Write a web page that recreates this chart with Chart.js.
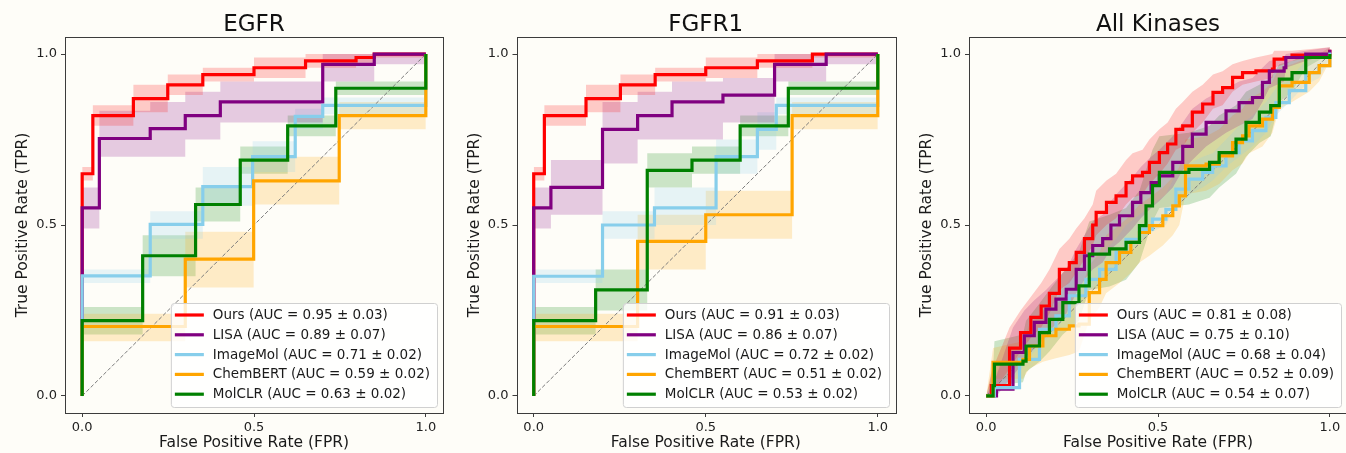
<!DOCTYPE html>
<html>
<head>
<meta charset="utf-8">
<script src="https://cdn.jsdelivr.net/npm/chart.js@4.4.0/dist/chart.umd.min.js"></script>
<style>
  html, body { margin: 0; padding: 0; background: #fefdf8; overflow: hidden; }
  #wrap { position: relative; width: 1346px; height: 453px; }
  canvas { position: absolute; top: 0; }
</style>
</head>
<body>
<div id="wrap">
  <canvas id="c1" width="455" height="453" style="left:0px"></canvas>
  <canvas id="c2" width="450" height="453" style="left:455px"></canvas>
  <canvas id="c3" width="442" height="453" style="left:905px"></canvas>
</div>
<script>
// ---- data ----
const MODELS = ['Ours', 'LISA', 'ImageMol', 'ChemBERT', 'MolCLR'];
const TICKS = [0, 0.5, 1.0];
const DIAG_X = [0, 1];
const DIAG_Y = [0, 1];

// EGFR
const egfrAuc = [0.95, 0.89, 0.71, 0.59, 0.63];
const egfrStd = [0.03, 0.07, 0.02, 0.02, 0.02];
const egfrOursX = [0, 0, 0.031, 0.149, 0.249, 0.351, 0.50, 0.65, 0.797, 0.85, 1.0];
const egfrOursY = [0, 0.65, 0.82, 0.87, 0.91, 0.94, 0.96, 0.98, 0.99, 1.0, 1.0];
const egfrOursLo = [0, 0.63, 0.79, 0.83, 0.88, 0.92, 0.93, 0.96, 0.975, 0.99, 0.99];
const egfrOursHi = [0, 0.67, 0.85, 0.91, 0.94, 0.96, 0.99, 1.0, 1.0, 1.0, 1.0];
const egfrLisaX = [0, 0, 0.05, 0.198, 0.30, 0.402, 0.70, 0.85, 1.0];
const egfrLisaY = [0, 0.55, 0.753, 0.782, 0.82, 0.86, 0.97, 1.0, 1.0];
const egfrLisaLo = [0, 0.49, 0.70, 0.70, 0.75, 0.80, 0.92, 0.97, 0.97];
const egfrLisaHi = [0, 0.61, 0.834, 0.86, 0.89, 0.92, 1.0, 1.0, 1.0];
const egfrImgX = [0, 0, 0.198, 0.351, 0.496, 0.62, 0.70, 1.0];
const egfrImgY = [0, 0.351, 0.502, 0.612, 0.70, 0.818, 0.85, 1.0];
const egfrImgLo = [0, 0.33, 0.46, 0.556, 0.655, 0.78, 0.824, 1.0];
const egfrImgHi = [0, 0.37, 0.54, 0.67, 0.745, 0.84, 0.873, 1.0];
const egfrChemX = [0, 0, 0.30, 0.499, 0.748, 1.0];
const egfrChemY = [0, 0.203, 0.40, 0.629, 0.82, 1.0];
const egfrChemLo = [0, 0.16, 0.317, 0.56, 0.78, 1.0];
const egfrChemHi = [0, 0.24, 0.48, 0.70, 0.86, 1.0];
const egfrMolX = [0, 0, 0.176, 0.33, 0.46, 0.598, 0.738, 1.0];
const egfrMolY = [0, 0.22, 0.41, 0.56, 0.69, 0.79, 0.90, 1.0];
const egfrMolLo = [0, 0.18, 0.35, 0.51, 0.65, 0.76, 0.88, 1.0];
const egfrMolHi = [0, 0.26, 0.47, 0.61, 0.73, 0.82, 0.92, 1.0];

// FGFR1
const fgfrAuc = [0.91, 0.86, 0.72, 0.51, 0.53];
const fgfrStd = [0.03, 0.07, 0.02, 0.02, 0.02];
const fgfrOursX = [0, 0, 0.031, 0.152, 0.252, 0.353, 0.50, 0.65, 0.81, 1.0];
const fgfrOursY = [0, 0.65, 0.82, 0.87, 0.91, 0.94, 0.96, 0.98, 1.0, 1.0];
const fgfrOursLo = [0, 0.63, 0.79, 0.83, 0.88, 0.92, 0.93, 0.96, 0.99, 0.99];
const fgfrOursHi = [0, 0.67, 0.85, 0.91, 0.94, 0.96, 0.99, 1.0, 1.0, 1.0];
const fgfrLisaX = [0, 0, 0.05, 0.20, 0.302, 0.402, 0.55, 0.70, 0.85, 1.0];
const fgfrLisaY = [0, 0.55, 0.61, 0.78, 0.82, 0.86, 0.88, 0.97, 1.0, 1.0];
const fgfrLisaLo = [0, 0.49, 0.53, 0.68, 0.75, 0.75, 0.80, 0.92, 0.97, 0.97];
const fgfrLisaHi = [0, 0.61, 0.69, 0.86, 0.89, 0.92, 0.93, 1.0, 1.0, 1.0];
const fgfrImgX = [0, 0, 0.20, 0.351, 0.53, 0.65, 0.705, 1.0];
const fgfrImgY = [0, 0.35, 0.50, 0.55, 0.70, 0.78, 0.85, 1.0];
const fgfrImgLo = [0, 0.33, 0.46, 0.50, 0.65, 0.72, 0.824, 1.0];
const fgfrImgHi = [0, 0.37, 0.54, 0.61, 0.75, 0.83, 0.873, 1.0];
const fgfrChemX = [0, 0, 0.302, 0.50, 0.751, 1.0];
const fgfrChemY = [0, 0.203, 0.452, 0.53, 0.82, 1.0];
const fgfrChemLo = [0, 0.16, 0.37, 0.46, 0.78, 1.0];
const fgfrChemHi = [0, 0.24, 0.53, 0.60, 0.86, 1.0];
const fgfrMolX = [0, 0, 0.18, 0.33, 0.46, 0.60, 0.74, 1.0];
const fgfrMolY = [0, 0.22, 0.31, 0.66, 0.69, 0.79, 0.90, 1.0];
const fgfrMolLo = [0, 0.18, 0.25, 0.61, 0.65, 0.76, 0.88, 1.0];
const fgfrMolHi = [0, 0.26, 0.37, 0.71, 0.73, 0.82, 0.92, 1.0];

// All Kinases
const allAuc = [0.81, 0.75, 0.68, 0.52, 0.54];
const allStd = [0.08, 0.10, 0.04, 0.09, 0.07];
const allOursX = [0, 0.015, 0.068, 0.10, 0.13, 0.16, 0.184, 0.213, 0.242, 0.262, 0.286, 0.31, 0.32, 0.35, 0.378, 0.407, 0.426, 0.455, 0.475, 0.504, 0.528, 0.552, 0.572, 0.60, 0.63, 0.66, 0.688, 0.717, 0.746, 0.785, 0.833, 0.838, 0.867, 0.89, 1.0];
const allOursY = [0, 0.03, 0.14, 0.185, 0.23, 0.263, 0.30, 0.37, 0.39, 0.42, 0.46, 0.50, 0.537, 0.566, 0.585, 0.624, 0.644, 0.654, 0.683, 0.712, 0.737, 0.78, 0.79, 0.83, 0.854, 0.888, 0.902, 0.932, 0.946, 0.951, 0.956, 0.985, 0.99, 0.997, 1.013];
const allOursHi = [0, 0.07, 0.2, 0.25, 0.29, 0.33, 0.37, 0.43, 0.46, 0.49, 0.52, 0.56, 0.60, 0.63, 0.65, 0.69, 0.71, 0.72, 0.75, 0.78, 0.80, 0.84, 0.86, 0.89, 0.91, 0.94, 0.95, 0.97, 0.98, 0.99, 1.0, 1.01, 1.01, 1.01, 1.02];
const allOursLo = [0, 0, 0.08, 0.13, 0.17, 0.2, 0.24, 0.31, 0.33, 0.36, 0.40, 0.44, 0.47, 0.50, 0.52, 0.56, 0.58, 0.59, 0.62, 0.65, 0.68, 0.72, 0.73, 0.77, 0.80, 0.84, 0.85, 0.89, 0.91, 0.92, 0.93, 0.96, 0.97, 0.98, 1.0];
const allLisaX = [0, 0.03, 0.078, 0.111, 0.14, 0.174, 0.203, 0.233, 0.262, 0.286, 0.31, 0.339, 0.363, 0.388, 0.426, 0.45, 0.48, 0.504, 0.543, 0.572, 0.60, 0.64, 0.698, 0.736, 0.775, 0.804, 0.824, 0.867, 0.872, 0.93, 1.0];
const allLisaY = [0, 0.02, 0.127, 0.176, 0.215, 0.254, 0.283, 0.312, 0.37, 0.41, 0.44, 0.46, 0.50, 0.527, 0.566, 0.595, 0.624, 0.644, 0.683, 0.73, 0.766, 0.80, 0.834, 0.858, 0.873, 0.917, 0.95, 0.96, 0.99, 1.0, 1.013];
const allLisaHi = [0, 0.06, 0.2, 0.25, 0.28, 0.31, 0.34, 0.37, 0.43, 0.47, 0.51, 0.53, 0.57, 0.60, 0.64, 0.67, 0.70, 0.72, 0.76, 0.80, 0.84, 0.87, 0.90, 0.92, 0.93, 0.96, 0.98, 0.99, 1.0, 1.01, 1.02];
const allLisaLo = [0, 0, 0.06, 0.1, 0.14, 0.18, 0.21, 0.24, 0.30, 0.34, 0.37, 0.39, 0.43, 0.45, 0.49, 0.52, 0.55, 0.57, 0.61, 0.66, 0.69, 0.73, 0.77, 0.79, 0.81, 0.86, 0.90, 0.92, 0.96, 0.98, 1.0];
const allImgX = [0, 0.024, 0.097, 0.155, 0.203, 0.242, 0.29, 0.33, 0.378, 0.407, 0.446, 0.484, 0.523, 0.552, 0.59, 0.63, 0.659, 0.698, 0.736, 0.775, 0.814, 0.843, 0.882, 0.93, 0.969, 1.0];
const allImgY = [0, 0.024, 0.107, 0.195, 0.234, 0.293, 0.341, 0.37, 0.42, 0.458, 0.488, 0.517, 0.546, 0.605, 0.634, 0.654, 0.673, 0.712, 0.746, 0.776, 0.815, 0.858, 0.893, 0.946, 0.966, 1.005];
const allImgHi = [0, 0.06, 0.15, 0.24, 0.28, 0.34, 0.38, 0.41, 0.46, 0.50, 0.53, 0.56, 0.59, 0.65, 0.68, 0.70, 0.71, 0.75, 0.79, 0.82, 0.86, 0.90, 0.93, 0.98, 1.0, 1.02];
const allImgLo = [0, 0, 0.07, 0.15, 0.19, 0.25, 0.30, 0.33, 0.38, 0.42, 0.45, 0.48, 0.50, 0.56, 0.59, 0.61, 0.63, 0.67, 0.70, 0.73, 0.77, 0.82, 0.86, 0.91, 0.93, 0.99];
const allChemX = [0, 0.02, 0.107, 0.126, 0.165, 0.203, 0.242, 0.27, 0.30, 0.33, 0.349, 0.388, 0.421, 0.446, 0.475, 0.514, 0.543, 0.562, 0.58, 0.64, 0.678, 0.717, 0.746, 0.765, 0.804, 0.833, 0.853, 0.89, 0.94, 0.969, 1.0];
const allChemY = [0, 0.098, 0.107, 0.146, 0.176, 0.195, 0.205, 0.21, 0.302, 0.341, 0.39, 0.42, 0.449, 0.478, 0.498, 0.527, 0.556, 0.585, 0.673, 0.678, 0.702, 0.741, 0.761, 0.79, 0.81, 0.844, 0.907, 0.917, 0.946, 0.966, 1.0];
const allChemHi = [0, 0.14, 0.16, 0.21, 0.25, 0.27, 0.29, 0.30, 0.38, 0.42, 0.47, 0.50, 0.53, 0.56, 0.58, 0.61, 0.64, 0.67, 0.75, 0.76, 0.78, 0.82, 0.84, 0.87, 0.89, 0.92, 0.96, 0.97, 0.99, 1.0, 1.02];
const allChemLo = [0, 0.05, 0.05, 0.08, 0.1, 0.11, 0.12, 0.13, 0.22, 0.26, 0.30, 0.33, 0.36, 0.39, 0.41, 0.44, 0.47, 0.50, 0.59, 0.60, 0.62, 0.66, 0.68, 0.71, 0.73, 0.77, 0.84, 0.86, 0.89, 0.92, 0.98];
const allMolX = [0, 0.02, 0.024, 0.107, 0.116, 0.155, 0.184, 0.223, 0.27, 0.30, 0.359, 0.407, 0.446, 0.465, 0.484, 0.504, 0.59, 0.65, 0.678, 0.727, 0.756, 0.795, 0.828, 0.853, 0.89, 0.93, 1.0];
const allMolY = [0, 0.03, 0.093, 0.102, 0.146, 0.185, 0.224, 0.273, 0.322, 0.415, 0.43, 0.449, 0.498, 0.556, 0.615, 0.654, 0.663, 0.683, 0.712, 0.751, 0.80, 0.83, 0.849, 0.927, 0.946, 0.99, 1.0];
const allMolHi = [0, 0.08, 0.16, 0.18, 0.22, 0.27, 0.31, 0.36, 0.42, 0.51, 0.53, 0.55, 0.60, 0.66, 0.72, 0.76, 0.77, 0.79, 0.82, 0.85, 0.89, 0.91, 0.93, 0.97, 0.98, 1.0, 1.0];
const allMolLo = [0, 0, 0.03, 0.04, 0.07, 0.1, 0.13, 0.18, 0.22, 0.31, 0.32, 0.34, 0.39, 0.45, 0.51, 0.55, 0.56, 0.58, 0.61, 0.65, 0.70, 0.74, 0.76, 0.86, 0.89, 0.96, 1.0];

// ---- styling ----
const COLORS = ['#ff0000', '#800080', '#87ceeb', '#ffa500', '#008000'];
const BANDS  = ['rgba(255,0,0,0.2)', 'rgba(128,0,128,0.2)', 'rgba(135,206,235,0.2)', 'rgba(255,165,0,0.2)', 'rgba(0,128,0,0.2)'];
const FONT = '"DejaVu Sans", "Liberation Sans", sans-serif';
const SPINE = '#3c3c3c';

const pts = (xs, ys) => xs.map((x, i) => ({ x, y: ys[i] }));

// spines + matplotlib-like legend in the lower right
const frameLegend = {
  id: 'frameLegend',
  afterDraw(chart) {
    const { ctx, chartArea: a } = chart;
    ctx.save();
    ctx.strokeStyle = SPINE;
    ctx.lineWidth = 1;
    ctx.strokeRect(Math.round(a.left) + 0.5, Math.round(a.top) + 0.5,
                   Math.round(a.right - a.left), Math.round(a.bottom - a.top));

    const items = chart.data.datasets.filter(d => d.label);
    const fs = 13.5, rowH = 19.8;
    ctx.font = `${fs}px ${FONT}`;
    const maxW = Math.max(...items.map(d => ctx.measureText(d.label).width));
    const padL = 4, handle = 29, gap = 9, padR = 7;
    const w = padL + handle + gap + maxW + padR;
    const h = 12 + rowH * (items.length - 1) + 12.8;
    const x0 = a.right - 6 - w, y0 = a.bottom - 6 - h;
    ctx.beginPath();
    ctx.roundRect(x0 + 0.5, y0 + 0.5, w, h, 3);
    ctx.fillStyle = 'rgba(255,255,255,0.8)';
    ctx.fill();
    ctx.strokeStyle = '#d0d0d0';
    ctx.stroke();
    items.forEach((d, i) => {
      const cy = y0 + 12 + i * rowH;
      ctx.beginPath();
      ctx.moveTo(x0 + padL, cy);
      ctx.lineTo(x0 + padL + handle, cy);
      ctx.strokeStyle = d.borderColor;
      ctx.lineWidth = 3.2;
      ctx.stroke();
      ctx.fillStyle = '#1a1a1a';
      ctx.textBaseline = 'middle';
      ctx.textAlign = 'left';
      ctx.fillText(d.label, x0 + padL + handle + gap, cy + 0.5);
    });
    ctx.restore();
  }
};

function makeChart(id, title, series, aucs, stds, yW, padRight, stepBand) {
  const datasets = [];
  series.forEach((s, i) => {
    const st = stepBand ? 'before' : false;
    datasets.push({ data: pts(s[0], s[3]), borderColor: 'rgba(0,0,0,0)', borderWidth: 0, pointRadius: 0,
                    fill: '+1', backgroundColor: BANDS[i], stepped: st, order: 20 });
    datasets.push({ data: pts(s[0], s[2]), borderColor: 'rgba(0,0,0,0)', borderWidth: 0, pointRadius: 0,
                    fill: false, stepped: st, order: 20 });
  });
  datasets.push({ data: pts(DIAG_X, DIAG_Y), borderColor: '#7a7a7a', borderWidth: 1, borderDash: [4, 2],
                  pointRadius: 0, fill: false, order: 10 });
  series.forEach((s, i) => {
    datasets.push({
      label: `${MODELS[i]} (AUC = ${aucs[i].toFixed(2)} ± ${stds[i].toFixed(2)})`,
      data: pts(s[0], s[1]), borderColor: COLORS[i], borderWidth: 3.2, pointRadius: 0,
      stepped: 'before', fill: false, order: 5 - i
    });
  });

  const tickFont = { family: FONT, size: 13 };
  const axisFont = { family: FONT, size: 15.5, lineHeight: 1.2 };
  const grid = { drawOnChartArea: false, drawTicks: true, tickLength: 4, color: SPINE };
  const setTicks = sc => { sc.ticks = TICKS.map(v => ({ value: v })); };

  return new Chart(document.getElementById(id), {
    type: 'line',
    data: { datasets },
    options: {
      responsive: false, animation: false, devicePixelRatio: 1,
      layout: { padding: { left: 0, right: padRight, top: 0, bottom: 0 } },
      plugins: {
        legend: { display: false }, tooltip: { enabled: false },
        filler: { drawTime: 'beforeDatasetsDraw' },
        title: { display: true, text: title, fullSize: false, color: '#111',
                 font: { family: FONT, size: 23, weight: 'normal', lineHeight: 1 },
                 padding: { top: 13.3, bottom: 0.7 } }
      },
      scales: {
        x: {
          type: 'linear', min: -0.05, max: 1.05, grid, border: { display: false },
          afterBuildTicks: setTicks,
          afterFit: sc => { sc.height = 40; },
          ticks: { font: tickFont, color: '#222', padding: 3, maxRotation: 0, callback: v => v.toFixed(1) },
          title: { display: true, text: 'False Positive Rate (FPR)', color: '#1a1a1a', font: axisFont,
                   padding: { top: 0, bottom: 1 } }
        },
        y: {
          type: 'linear', min: -0.05, max: 1.05, grid, border: { display: false },
          afterBuildTicks: setTicks,
          afterFit: sc => { sc.width = yW; },
          ticks: { font: tickFont, color: '#222', padding: 4, callback: v => v.toFixed(1) },
          title: { display: true, text: 'True Positive Rate (TPR)', color: '#1a1a1a', font: axisFont,
                   padding: { top: yW - 42 - 9.3, bottom: 0 } }
        }
      }
    },
    plugins: [frameLegend]
  });
}

makeChart('c1', 'EGFR', [
  [egfrOursX, egfrOursY, egfrOursLo, egfrOursHi],
  [egfrLisaX, egfrLisaY, egfrLisaLo, egfrLisaHi],
  [egfrImgX, egfrImgY, egfrImgLo, egfrImgHi],
  [egfrChemX, egfrChemY, egfrChemLo, egfrChemHi],
  [egfrMolX, egfrMolY, egfrMolLo, egfrMolHi]
], egfrAuc, egfrStd, 65, 12, true);

makeChart('c2', 'FGFR1', [
  [fgfrOursX, fgfrOursY, fgfrOursLo, fgfrOursHi],
  [fgfrLisaX, fgfrLisaY, fgfrLisaLo, fgfrLisaHi],
  [fgfrImgX, fgfrImgY, fgfrImgLo, fgfrImgHi],
  [fgfrChemX, fgfrChemY, fgfrChemLo, fgfrChemHi],
  [fgfrMolX, fgfrMolY, fgfrMolLo, fgfrMolHi]
], fgfrAuc, fgfrStd, 61.5, 10, true);

makeChart('c3', 'All Kinases', [
  [allOursX, allOursY, allOursLo, allOursHi],
  [allLisaX, allLisaY, allLisaLo, allLisaHi],
  [allImgX, allImgY, allImgLo, allImgHi],
  [allChemX, allChemY, allChemLo, allChemHi],
  [allMolX, allMolY, allMolLo, allMolHi]
], allAuc, allStd, 64, 0, false);
</script>
</body>
</html>
